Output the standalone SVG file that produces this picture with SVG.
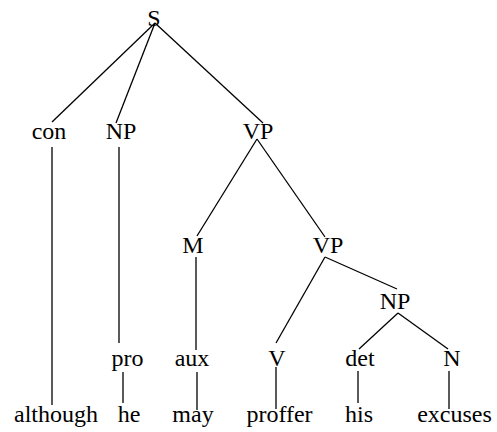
<svg xmlns="http://www.w3.org/2000/svg" width="497" height="432" viewBox="0 0 497 432">
<style>
text{font-family:'Liberation Serif','DejaVu Serif',serif;font-size:24px;fill:#000;text-anchor:middle}
line{stroke:#000;stroke-width:1.3;fill:none}
</style>
<rect width="497" height="432" fill="#fff"/>
<g id="connectors">
<line x1="155" y1="23" x2="52" y2="122"/>
<line x1="155" y1="23" x2="116" y2="123"/>
<line x1="155" y1="23" x2="263" y2="123"/>
<line x1="52" y1="147" x2="52" y2="405"/>
<line x1="119" y1="147" x2="119" y2="343"/>
<line x1="257" y1="139" x2="197" y2="236"/>
<line x1="257" y1="139" x2="325" y2="237"/>
<line x1="196" y1="257" x2="196" y2="350"/>
<line x1="325" y1="257" x2="276" y2="343"/>
<line x1="325" y1="257" x2="397" y2="289"/>
<line x1="398" y1="313" x2="359" y2="349"/>
<line x1="398" y1="313" x2="448" y2="349"/>
<line x1="123" y1="372" x2="123" y2="403"/>
<line x1="197" y1="372" x2="197" y2="410"/>
<line x1="276" y1="367" x2="276" y2="409"/>
<line x1="358" y1="371" x2="358" y2="403"/>
<line x1="449" y1="371" x2="449" y2="409"/>
</g>
<g id="S"><text x="154" y="26" font-family="Liberation Serif, serif">S</text></g>
<g id="con"><text x="49" y="139">con</text></g>
<g id="NP1"><text x="121" y="139">NP</text></g>
<g id="VP1"><text x="258" y="139">VP</text></g>
<g id="M"><text x="193" y="253">M</text></g>
<g id="VP2"><text x="328" y="253">VP</text></g>
<g id="NP2"><text x="395" y="309">NP</text></g>
<g id="pro"><text x="127.5" y="366">pro</text></g>
<g id="aux"><text x="192" y="366">aux</text></g>
<g id="V"><text x="277" y="366">V</text></g>
<g id="det"><text x="360" y="366">det</text></g>
<g id="N"><text x="452" y="366">N</text></g>
<g id="although"><text x="56" y="422">although</text></g>
<g id="he"><text x="129" y="422">he</text></g>
<g id="may"><text x="193" y="422">may</text></g>
<g id="proffer"><text x="279.5" y="422">proffer</text></g>
<g id="his"><text x="359" y="422">his</text></g>
<g id="excuses"><text x="454.5" y="422">excuses</text></g>
</svg>
